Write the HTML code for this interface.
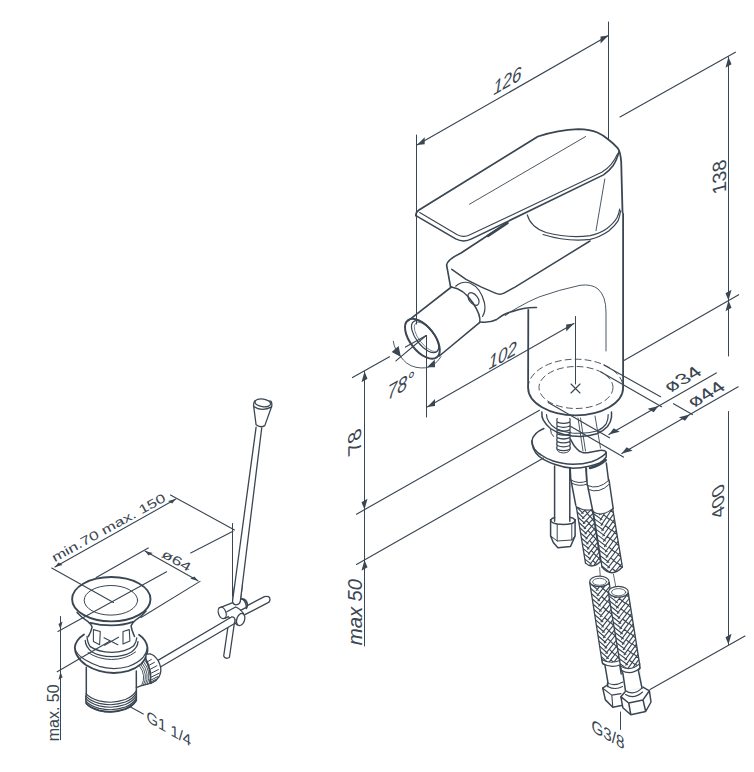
<!DOCTYPE html>
<html><head><meta charset="utf-8"><title>Drawing</title>
<style>
html,body{margin:0;padding:0;background:#fff;}
svg{display:block}
text{font-family:"Liberation Sans",sans-serif;fill:#3a4652;stroke:none}
</style></head><body>
<svg width="754" height="772" viewBox="0 0 754 772" stroke="#3a4652" fill="none" stroke-linecap="round" stroke-linejoin="round">
<rect width="754" height="772" fill="#fff" stroke="none"/>
<line x1="416.50" y1="135.00" x2="416.50" y2="324.00" stroke-width="1.0" />
<line x1="608.50" y1="22.00" x2="608.50" y2="139.00" stroke-width="1.0" />
<line x1="416.90" y1="145.10" x2="608.40" y2="35.50" stroke-width="1.2" />
<polygon points="608.40,35.50 600.59,43.47 600.59,36.47" fill="#3a4652" stroke="none"/>
<polygon points="416.90,145.10 424.71,144.13 424.71,137.13" fill="#3a4652" stroke="none"/>
<text transform="matrix(0.866,-0.5,0,1,507.00,87.50)" x="0.3" y="0" font-size="19.5" font-style="italic" text-anchor="middle">126</text>
<line x1="620.00" y1="117.00" x2="735.40" y2="52.20" stroke-width="1.15" />
<line x1="728.50" y1="57.00" x2="728.50" y2="300.50" stroke-width="1.0" />
<polygon points="728.50,300.50 731.53,289.75 725.47,293.25" fill="#3a4652" stroke="none"/>
<polygon points="728.50,57.00 731.53,64.25 725.47,67.75" fill="#3a4652" stroke="none"/>
<text transform="matrix(0,-1,0.96,-0.28,725.50,175.50)" x="0.4" y="0" font-size="20" text-anchor="middle">138</text>
<line x1="623.50" y1="360.80" x2="738.70" y2="294.70" stroke-width="1.15" />
<line x1="728.50" y1="300.50" x2="728.50" y2="356.00" stroke-width="1.0" />
<line x1="728.50" y1="411.50" x2="728.50" y2="644.50" stroke-width="1.0" />
<polygon points="728.50,300.50 731.53,307.75 725.47,311.25" fill="#3a4652" stroke="none"/>
<polygon points="728.50,644.50 731.53,633.75 725.47,637.25" fill="#3a4652" stroke="none"/>
<text transform="matrix(0,-1,0.866,-0.5,724.20,498.40)" x="0" y="0" font-size="19.8" text-anchor="middle">400</text>
<line x1="650.00" y1="689.40" x2="745.00" y2="636.00" stroke-width="1.15" />
<line x1="426.50" y1="335.50" x2="426.50" y2="417.00" stroke-width="1.0" />
<line x1="427.20" y1="407.00" x2="574.00" y2="323.60" stroke-width="1.15" />
<polygon points="574.00,323.60 566.17,331.55 566.17,324.55" fill="#3a4652" stroke="none"/>
<polygon points="427.20,407.00 435.03,406.05 435.03,399.05" fill="#3a4652" stroke="none"/>
<text transform="matrix(0.866,-0.5,0,1,502.50,362.00)" x="0.1" y="0" font-size="19.5" font-style="italic" text-anchor="middle">102</text>
<line x1="575.50" y1="316.50" x2="575.50" y2="384.00" stroke-width="1.0" />
<line x1="571.00" y1="384.00" x2="580.00" y2="393.00" stroke-width="1.15" />
<line x1="571.00" y1="393.00" x2="580.00" y2="384.00" stroke-width="1.15" />
<path d="M393.3,341.3 Q394.5,350 400.7,356.7 Q403.5,360.5 406.5,363 Q411,366.3 416,367.3 Q421,368.3 425.6,367.8 Q429.5,367 433,365.2 Q438,361.5 441,356.7" stroke-width="0.9" fill="none" />
<line x1="426.20" y1="335.50" x2="395.90" y2="360.90" stroke-width="1.15" />
<polygon points="391.7,351.9 398.6,346.1 400.9,357" fill="#3a4652" stroke="none"/>
<polygon points="427,367.3 435,367.3 434.8,359.6" fill="#3a4652" stroke="none"/>
<text transform="matrix(0.866,-0.5,0,1,400.00,393.00)" x="1" y="0" font-size="20.5" font-style="italic" text-anchor="middle">78°</text>
<line x1="352.50" y1="377.60" x2="389.50" y2="356.70" stroke-width="1.15" />
<line x1="405.50" y1="347.10" x2="426.20" y2="335.50" stroke-width="1.15" />
<line x1="364.50" y1="371.50" x2="364.50" y2="509.50" stroke-width="1.0" />
<polygon points="364.50,509.50 367.53,498.75 361.47,502.25" fill="#3a4652" stroke="none"/>
<polygon points="364.50,371.50 367.53,378.75 361.47,382.25" fill="#3a4652" stroke="none"/>
<text transform="matrix(0,-1,0.866,-0.5,361.00,438.70)" x="0.1" y="0" font-size="21.5" text-anchor="middle">78</text>
<line x1="356.50" y1="514.20" x2="539.50" y2="410.30" stroke-width="1.15" />
<line x1="356.50" y1="564.50" x2="543.50" y2="458.10" stroke-width="1.15" />
<line x1="364.50" y1="509.00" x2="364.50" y2="646.00" stroke-width="1.0" />
<polygon points="364.50,560.00 367.53,567.25 361.47,570.75" fill="#3a4652" stroke="none"/>
<text transform="matrix(0,-1,1,0,361.50,626.40)" x="0.4" y="0" font-size="20.5" font-style="italic" text-anchor="middle">max</text>
<text transform="matrix(0,-1,1,0,361.50,590.50)" x="0.2" y="0" font-size="20" font-style="italic" text-anchor="middle">50</text>
<path d="M415.9,215.6 Q415.6,212.5 418.6,210.3 L537.9,136.5 Q558,130 578.3,129.2 Q590,129.5 597.4,132.5 Q603,135 608,139.3 Q614,144 617.5,147.8 Q620.5,152 621.2,161.8 L622.5,212" stroke-width="1.8" fill="none" />
<path d="M415.9,215.6 L455.7,238.9 Q463.7,243 471.6,238.9 L603.5,174.9 Q609.5,170.5 613,165.7 Q616.8,160.3 618.9,151.9" stroke-width="1.6" fill="none" />
<path d="M419.7,212.5 L457.3,234.8 Q463.7,238 470,234.8 L601.7,172.3 Q607.5,168.6 610.9,164.6 Q615,159.8 617.6,153.8" stroke-width="1.1" fill="none" />
<line x1="469.50" y1="204.20" x2="585.70" y2="136.50" stroke-width="0.9" />
<line x1="604.80" y1="179.00" x2="596.00" y2="230.70" stroke-width="0.9" />
<path d="M506,223.5 L461,253 Q447.5,259.5 446.6,265 L450.5,286.5" stroke-width="1.6" fill="none" />
<path d="M488,235.8 L507.5,223" stroke-width="2.6" fill="none" />
<path d="M527.3,214.8 Q530.5,227 546,232.5 Q568,238.5 590.2,235.7 Q600,233.5 607,228.5 Q614,223 617.1,217.5 Q619,213.5 619.7,209.1" stroke-width="1.2" fill="none" />
<path d="M543,234.5 Q568,242.3 590.2,239.4 Q600,237 608.7,231 Q615,226 618,220.9 Q620,216 620.6,210.8" stroke-width="1.2" fill="none" />
<path d="M623.1,213.4 L623.1,387.7 A47.5,27.6 0 0 1 528.1,387.7 L528.3,310" stroke-width="1.8" fill="none" />
<path d="M528.1,387.7 A47.5,28.5 0 0 1 623.1,387.7" stroke-width="0.9" fill="none" stroke-dasharray="6 4"/>
<ellipse cx="576.00" cy="387.50" rx="37.00" ry="21.00" stroke-width="0.9" fill="none" transform="rotate(0 576.00 387.50)" stroke-dasharray="6 4"/>
<path d="M505.5,315.5 Q511,311 517.9,307.5 Q528,301.5 539.2,296.9 Q560,289.5 580,285.3 Q592,283.8 598,289 Q606,296 606,312 L606,351" stroke-width="0.9" fill="none" />
<path d="M451.8,269.3 L466,279.3 L481.5,287.1 L495.3,293.1 Q500,295.2 504,293.1 L515,287.1 L590,241" stroke-width="1.5" fill="none" />
<path d="M480.8,322 Q490,323 496.7,319.5 Q505,313 512.6,311.5 Q525,307 536.5,307.5" stroke-width="1.5" fill="none" />
<ellipse cx="422.40" cy="338.80" rx="23.50" ry="12.20" stroke-width="2.0" fill="none" transform="rotate(52 422.40 338.80)" />
<ellipse cx="425.10" cy="336.70" rx="19.00" ry="8.90" stroke-width="1.2" fill="none" transform="rotate(52 425.10 336.70)" />
<ellipse cx="426.60" cy="337.00" rx="17.60" ry="7.60" stroke-width="0.6" fill="none" transform="rotate(52 426.60 337.00)" />
<path d="M408.3,320.7 L451.4,287" stroke-width="1.6" fill="none" />
<path d="M439.3,356 L479.8,322.4" stroke-width="1.6" fill="none" />
<path d="M451.4,287 Q464,289 473,303 Q481,315 479.8,322.4" stroke-width="1.5" fill="none" />
<path d="M455.7,286.2 Q462,280.5 470,283 Q481,288 484.5,303 Q486,311 482.5,316.5" stroke-width="1.2" fill="none" />
<ellipse cx="473.50" cy="299.00" rx="4.30" ry="7.20" stroke-width="1.2" fill="none" transform="rotate(-38 473.50 299.00)" />
<line x1="548.20" y1="402.40" x2="609.50" y2="437.80" stroke-width="1.15" />
<line x1="570.00" y1="426.00" x2="623.40" y2="457.10" stroke-width="1.15" />
<path d="M541.9,411.9 Q541.5,417 543.2,419.9 Q546,425 550.5,428.5 Q556,432.5 563.8,434.5 Q572,436.5 581,436.5 Q590,436 596.9,433.8 Q603.5,431 607.5,426.5 Q611,422 611.5,417.2 L611.5,412" stroke-width="1.5" fill="none" />
<path d="M546.5,414.6 Q546.5,418.5 548.5,421.2 Q551,425.5 555.8,428.5 Q563,432 572,433 Q586,434 597,431 Q603,428.5 606.2,423.9 Q608.4,419.5 608.2,414.6" stroke-width="1.2" fill="none" />
<path d="M550.5,429.5 Q550.5,434 553.5,436.5" stroke-width="1.0" fill="none" />
<path d="M578,418 L583,451 M580.5,418 L585.5,451 M595,416 L600.5,448" stroke-width="0.9" fill="none" />
<path d="M543.9,428.5 Q533,433 531.9,441.1 L532.2,444.4 Q533,449 535.9,453 Q539,457 543.9,459.7 Q549,462.5 554.5,464.3 Q563,467.5 573,468.3 Q581,468.3 589,466.3 Q595,465 599.6,463 Q604,460.5 606.2,457 L606.2,452.4" stroke-width="1.5" fill="none" />
<path d="M531.9,441.1 Q532.3,445.5 534.6,449.1 Q537,452.5 541.2,455 Q546,458.5 553.2,461 Q562,464 573,464.3 Q583,464.3 591.6,461.7 Q598,459.5 602.2,456.4 Q605.5,454 606.2,452.4 Q605.5,450 599.6,450.4 Q594,451.5 589,452.4 Q585.5,453 582.3,452.4 Q579,451.5 577,449 Q574.5,446.5 573,443.8 Q571.5,441 570.4,439.1" stroke-width="1.5" fill="none" />
<path d="M557.2,418.5 Q556.3,420.3 557.2,422.1 Q563.5,424.7 569.8,422.1 Q570.7,420.3 569.8,418.5" stroke-width="1.25" fill="none" />
<path d="M557.2,422.4 Q556.3,424.2 557.2,426.0 Q563.5,428.6 569.8,426.0 Q570.7,424.2 569.8,422.4" stroke-width="1.25" fill="none" />
<path d="M557.2,426.3 Q556.3,428.1 557.2,429.9 Q563.5,432.5 569.8,429.9 Q570.7,428.1 569.8,426.3" stroke-width="1.25" fill="none" />
<path d="M557.2,430.2 Q556.3,432.0 557.2,433.8 Q563.5,436.4 569.8,433.8 Q570.7,432.0 569.8,430.2" stroke-width="1.25" fill="none" />
<path d="M557.2,434.1 Q556.3,435.9 557.2,437.7 Q563.5,440.3 569.8,437.7 Q570.7,435.9 569.8,434.1" stroke-width="1.25" fill="none" />
<path d="M557.2,438.0 Q556.3,439.8 557.2,441.6 Q563.5,444.2 569.8,441.6 Q570.7,439.8 569.8,438.0" stroke-width="1.25" fill="none" />
<path d="M557.2,441.9 Q556.3,443.7 557.2,445.5 Q563.5,448.1 569.8,445.5 Q570.7,443.7 569.8,441.9" stroke-width="1.25" fill="none" />
<path d="M557.2,445.8 Q556.3,447.6 557.2,449.4 Q563.5,452.0 569.8,449.4 Q570.7,447.6 569.8,445.8" stroke-width="1.25" fill="none" />
<path d="M557.2,449.5 Q557,452.5 563.5,453 Q570,452.5 569.8,449.5" stroke-width="1.0" fill="none" />
<path d="M554.6,466 L554.6,521.3 M569.8,467.5 L569.8,521.3" stroke-width="1.5" fill="none" />
<path d="M550.6,520 L550.6,535.9 L553.3,542.5 L557.9,547.8 L570.5,546.5 L575.1,535.9 L575.1,520" stroke-width="1.5" fill="none" />
<path d="M550.6,520 Q551,523 557.2,524 Q565,525 571.8,523.5 Q575,522.5 575.1,520" stroke-width="1.5" fill="none" />
<path d="M550.6,520 Q552,518 554.6,517.6 M569.8,517.3 Q573.5,517.6 575.1,520" stroke-width="1.5" fill="none" />
<path d="M557.2,524 L557.2,541 M571.8,523.5 L571.8,540" stroke-width="1.0" fill="none" />
<path d="M550.6,535.9 L557.2,541 L571.8,540 L575.1,535.9" stroke-width="1.0" fill="none" />
<path d="M570.2,468 L570.8,480.2 M586.4,468.5 L586.6,480.2" stroke-width="1.5" fill="none" />
<path d="M571.2,480.2 Q579,484.5 587.1,481 M571.4,483 Q579,487.3 587.4,484" stroke-width="1.0" fill="none" />
<path d="M571.2,480.2 L571.6,483.5 L575.8,505.4" stroke-width="1.5" fill="none" />
<path d="M585.8,467.5 L587.3,485.5 M606.3,463 L608.5,480.2" stroke-width="1.5" fill="none" />
<path d="M587.7,485.5 Q598,490.5 609,480.2 M588,489.3 Q599,494.5 609.6,484" stroke-width="1.0" fill="none" />
<path d="M587.7,485.5 L588.4,489.5 L593,512 M609,480.2 L609.6,484 L613.2,508.5" stroke-width="1.5" fill="none" />
<path d="M590,468 Q599,466 605.8,460" stroke-width="2.4" fill="none" />
<clipPath id="bc1"><path d="M576.3,506.8 Q584,511.5 592.3,509.5 L600.6,561.5 Q592.3,569.5 585.5,563.1 Z"/></clipPath>
<path d="M577.7,499.5 L581.5,503.1 M582.7,500.5 L580.0,503.1 M583.4,500.6 L585.4,502.9 M575.4,501.6 L582.3,508.2 M587.7,501.5 L580.9,508.2 M585.6,503.5 L588.0,506.2 M591.1,502.2 L591.6,502.8 M576.3,506.8 L583.1,513.3 M591.4,503.7 L581.7,513.3 M584.6,510.2 L587.0,512.9 M588.4,506.5 L590.8,509.2 M577.2,512.0 L583.9,518.4 M592.2,508.6 L582.5,518.4 M587.2,513.5 L589.5,516.1 M590.8,509.9 L593.2,512.5 M578.0,517.3 L584.8,523.4 M592.9,513.4 L583.4,523.5 M586.3,520.3 L588.6,522.9 M590.0,516.3 L592.3,518.9 M578.9,522.5 L585.6,528.5 M593.7,518.2 L584.2,528.6 M588.8,523.4 L591.1,525.9 M592.4,519.6 L594.7,522.1 M579.7,527.7 L586.4,533.6 M594.5,523.1 L585.0,533.8 M587.9,530.4 L590.2,532.8 M591.6,526.2 L593.9,528.6 M580.6,533.0 L587.2,538.7 M595.2,527.9 L585.9,538.9 M590.4,533.4 L592.7,535.8 M593.9,529.3 L596.2,531.7 M581.4,538.2 L588.0,543.8 M596.0,532.7 L586.7,544.0 M589.5,540.4 L591.8,542.8 M593.1,536.0 L595.4,538.4 M582.3,543.4 L588.9,548.8 M596.8,537.5 L587.5,549.1 M592.0,543.3 L594.3,545.6 M595.5,539.1 L597.8,541.4 M583.1,548.6 L589.7,553.9 M597.5,542.4 L588.4,554.2 M591.1,550.5 L593.4,552.7 M594.7,545.9 L597.0,548.1 M584.0,553.9 L590.5,559.0 M598.3,547.2 L589.2,559.4 M593.6,553.3 L595.9,555.5 M597.0,548.8 L599.3,551.0 M584.8,559.1 L591.3,564.1 M599.1,552.0 L590.0,564.5 M592.8,560.5 L595.0,562.7 M596.3,555.7 L598.6,557.9 M585.7,564.3 L592.2,569.2 M599.9,556.9 L590.9,569.6 M595.2,563.2 L597.5,565.4 M598.6,558.6 L600.9,560.7 M586.6,569.6 L588.2,570.8 M600.6,561.7 L594.9,569.8 M597.9,565.5 L600.1,567.6 M601.4,566.5 L599.6,569.1 M600.2,568.3 L600.8,568.9" stroke-width="1.15" fill="none" clip-path="url(#bc1)"/>
<path d="M576.3,506.8 L585.5,563.1 M592.3,509.5 L600.6,561.5" stroke-width="1.3" fill="none" />
<path d="M576.3,506.8 Q584,511.5 592.3,509.5" stroke-width="1.1" fill="none" />
<path d="M585.5,563.1 Q592.3,569.5 600.6,561.5" stroke-width="1.3" fill="none" />
<path d="M593.3,511.7 Q602,516 612.7,508.7 L622.4,567 Q611.7,578 602,567 Z" stroke-width="0.1" fill="#fff" />
<clipPath id="bc2"><path d="M593.3,511.7 Q602,517.5 612.7,508.7 L622.4,567 Q611.7,578.5 602,567 Z"/></clipPath>
<path d="M598.1,502.7 L599.3,503.5 M598.6,502.6 L597.7,504.1 M592.7,503.7 L600.2,508.9 M603.6,501.7 L598.5,509.4 M602.0,504.2 L604.9,506.3 M592.8,508.4 L601.1,514.2 M608.6,500.9 L599.4,514.8 M605.0,506.4 L607.8,508.6 M610.2,500.6 L612.1,502.0 M593.6,513.7 L601.9,519.6 M611.7,502.8 L600.2,520.1 M603.8,514.9 L606.6,517.1 M608.2,508.2 L611.1,510.4 M594.4,518.9 L602.8,524.9 M612.6,508.3 L601.1,525.4 M606.7,517.2 L609.6,519.5 M611.1,510.8 L613.9,513.0 M595.3,524.1 L603.6,530.2 M613.6,513.8 L601.9,530.7 M605.5,525.7 L608.4,528.0 M610.0,519.1 L612.9,521.4 M596.1,529.4 L604.5,535.6 M614.5,519.4 L602.8,536.0 M608.5,528.1 L611.4,530.4 M612.9,521.7 L615.8,524.1 M596.9,534.6 L605.4,540.9 M615.4,524.9 L603.6,541.3 M607.2,536.4 L610.1,538.8 M611.8,530.0 L614.7,532.4 M597.7,539.9 L606.2,546.3 M616.3,530.4 L604.5,546.6 M610.3,538.9 L613.2,541.3 M614.7,532.7 L617.6,535.1 M598.6,545.1 L607.1,551.6 M617.2,535.9 L605.3,552.0 M609.0,547.2 L611.9,549.6 M613.6,540.9 L616.5,543.4 M599.4,550.3 L607.9,556.9 M618.1,541.4 L606.2,557.3 M612.0,549.7 L615.0,552.2 M616.5,543.7 L619.4,546.2 M600.2,555.6 L608.8,562.3 M619.1,547.0 L607.0,562.6 M610.7,557.9 L613.7,560.4 M615.4,551.9 L618.4,554.4 M601.0,560.8 L609.6,567.6 M620.0,552.5 L607.9,567.9 M613.8,560.6 L616.8,563.1 M618.3,554.7 L621.3,557.2 M601.8,566.0 L610.5,573.0 M620.9,558.0 L608.7,573.2 M612.5,568.7 L615.4,571.3 M617.2,562.8 L620.2,565.3 M602.7,571.3 L607.3,575.0 M621.8,563.5 L612.5,575.1 M615.6,571.4 L618.5,574.0 M620.1,565.7 L623.1,568.3 M622.7,569.0 L617.8,575.2 M619.0,573.7 L620.8,575.3 M623.7,574.6 L623.1,575.3" stroke-width="1.15" fill="none" clip-path="url(#bc2)"/>
<path d="M593.3,511.7 L602,567 M612.7,508.7 L622.4,567" stroke-width="1.3" fill="none" />
<path d="M593.3,511.7 Q602,517.5 612.7,508.7" stroke-width="1.1" fill="none" />
<path d="M602,567 Q611.7,578.5 622.4,567" stroke-width="1.3" fill="none" />
<line x1="599.60" y1="567.60" x2="600.60" y2="580.30" stroke-width="0.8" />
<line x1="613.40" y1="574.00" x2="616.60" y2="591.00" stroke-width="0.8" />
<clipPath id="bc3"><path d="M589.7,582.3 L609.2,582.3 L620,660.5 Q610,664.5 601.7,659.5 Z"/></clipPath>
<path d="M594.2,574.4 L594.0,574.6 M590.2,574.4 L596.5,579.6 M599.3,574.3 L594.8,579.9 M598.4,575.4 L601.2,577.8 M589.0,578.1 L597.3,584.8 M604.4,574.3 L595.6,585.1 M601.4,578.0 L604.2,580.5 M608.0,574.3 L608.7,574.9 M589.9,583.3 L598.1,590.1 M608.3,575.7 L596.4,590.4 M600.0,585.9 L602.8,588.4 M604.6,580.2 L607.4,582.7 M590.7,588.5 L598.9,595.4 M609.0,581.0 L597.2,595.6 M602.9,588.5 L605.7,591.1 M607.4,583.0 L610.1,585.5 M591.5,593.8 L599.6,600.6 M609.8,586.3 L598.0,600.9 M601.5,596.5 L604.3,599.0 M606.1,590.8 L608.9,593.3 M592.3,599.0 L600.4,605.9 M610.5,591.6 L598.7,606.1 M604.4,599.1 L607.2,601.6 M608.8,593.6 L611.6,596.2 M593.1,604.2 L601.2,611.1 M611.2,596.9 L599.5,611.4 M603.1,607.0 L605.8,609.5 M607.6,601.4 L610.4,603.9 M593.9,609.5 L602.0,616.4 M612.0,602.2 L600.3,616.7 M605.9,609.7 L608.7,612.2 M610.3,604.2 L613.1,606.8 M594.7,614.7 L602.8,621.7 M612.7,607.5 L601.1,621.9 M604.6,617.5 L607.3,620.1 M609.1,611.9 L611.8,614.5 M595.6,619.9 L603.6,626.9 M613.4,612.8 L601.9,627.2 M607.5,620.2 L610.2,622.8 M611.8,614.8 L614.5,617.4 M596.4,625.2 L604.3,632.2 M614.1,618.1 L602.7,632.4 M606.2,628.1 L608.9,630.6 M610.6,622.5 L613.3,625.1 M597.2,630.4 L605.1,637.5 M614.9,623.4 L603.5,637.7 M609.0,630.8 L611.7,633.4 M613.3,625.4 L616.0,628.0 M598.0,635.7 L605.9,642.7 M615.6,628.7 L604.3,642.9 M607.7,638.6 L610.4,641.2 M612.1,633.1 L614.8,635.7 M598.8,640.9 L606.7,648.0 M616.3,634.0 L605.1,648.2 M610.5,641.3 L613.2,643.9 M614.8,636.0 L617.4,638.6 M599.6,646.1 L607.5,653.2 M617.1,639.3 L605.9,653.4 M609.3,649.2 L611.9,651.8 M613.6,643.7 L616.3,646.3 M600.4,651.4 L608.3,658.5 M617.8,644.7 L606.7,658.7 M612.0,651.9 L614.7,654.5 M616.2,646.6 L618.9,649.2 M601.3,656.6 L609.1,663.8 M618.5,650.0 L607.5,664.0 M610.8,659.7 L613.5,662.3 M615.1,654.3 L617.8,656.9 M602.1,661.8 L608.5,667.7 M619.3,655.3 L609.4,667.8 M613.6,662.5 L616.2,665.1 M617.7,657.2 L620.4,659.8 M602.9,667.1 L603.2,667.4 M620.0,660.6 L614.1,668.1 M616.6,664.8 L619.2,667.5 M620.7,665.9 L618.8,668.4 M619.2,667.8 L619.8,668.4" stroke-width="1.15" fill="none" clip-path="url(#bc3)"/>
<path d="M589.7,582.3 L601.7,659.5 M609.2,582.3 L620,660.5" stroke-width="1.3" fill="none" />
<ellipse cx="599.40" cy="581.40" rx="9.70" ry="5.30" stroke-width="1.2" fill="#fff" transform="rotate(0 599.40 581.40)" />
<ellipse cx="599.60" cy="581.80" rx="7.00" ry="3.50" stroke-width="0.8" fill="none" transform="rotate(0 599.60 581.80)" />
<path d="M608.4,592.9 L628.3,592.9 L639.6,663.8 Q630,672 620.5,666.1 Z" stroke-width="0.1" fill="#fff" />
<clipPath id="bc4"><path d="M608.4,592.9 L628.3,592.9 L639.6,663.8 Q630,672 620.5,666.1 Z"/></clipPath>
<path d="M612.3,585.1 L614.8,587.1 M615.0,585.1 L613.1,587.4 M607.2,585.4 L615.7,592.3 M620.0,585.2 L613.9,592.6 M617.6,588.1 L620.5,590.6 M608.0,590.6 L616.5,597.5 M625.1,585.2 L614.8,597.8 M620.6,590.6 L623.5,593.1 M625.1,585.3 L628.0,587.7 M608.9,595.9 L617.4,602.6 M627.6,588.4 L615.6,603.0 M619.2,598.4 L622.1,600.8 M623.9,592.7 L626.8,595.1 M609.8,601.1 L618.2,607.8 M628.4,593.4 L616.5,608.1 M622.2,600.9 L625.1,603.3 M626.7,595.4 L629.6,597.8 M610.6,606.3 L619.0,613.0 M629.2,598.5 L617.3,613.3 M620.9,608.7 L623.8,611.1 M625.5,602.9 L628.4,605.3 M611.5,611.5 L619.9,618.2 M630.0,603.5 L618.2,618.5 M623.9,611.1 L626.7,613.5 M628.3,605.6 L631.2,607.9 M612.3,616.8 L620.7,623.3 M630.8,608.6 L619.0,623.7 M622.6,619.0 L625.4,621.3 M627.2,613.1 L630.0,615.5 M613.2,622.0 L621.6,628.5 M631.6,613.7 L619.9,628.9 M625.5,621.4 L628.4,623.7 M630.0,615.7 L632.8,618.0 M614.1,627.2 L622.4,633.7 M632.4,618.7 L620.7,634.1 M624.3,629.3 L627.1,631.6 M628.8,623.3 L631.6,625.6 M614.9,632.5 L623.3,638.8 M633.2,623.8 L621.6,639.2 M627.2,631.7 L630.0,633.9 M631.6,625.9 L634.4,628.2 M615.8,637.7 L624.1,644.0 M634.0,628.9 L622.4,644.4 M625.9,639.6 L628.7,641.8 M630.5,633.5 L633.3,635.8 M616.7,642.9 L624.9,649.2 M634.8,633.9 L623.3,649.6 M628.9,641.9 L631.7,644.1 M633.2,636.1 L636.0,638.3 M617.5,648.2 L625.8,654.3 M635.6,639.0 L624.1,654.8 M627.6,649.9 L630.4,652.1 M632.1,643.8 L634.9,645.9 M618.4,653.4 L626.6,659.5 M636.5,644.1 L625.0,660.0 M630.5,652.2 L633.3,654.3 M634.8,646.2 L637.6,648.4 M619.3,658.6 L627.5,664.7 M637.3,649.1 L625.8,665.2 M629.3,660.2 L632.1,662.3 M633.7,654.0 L636.5,656.1 M620.1,663.8 L628.3,669.8 M638.1,654.2 L626.6,670.3 M632.2,662.4 L634.9,664.5 M636.5,656.4 L639.2,658.5 M621.0,669.1 L626.8,673.3 M638.9,659.3 L629.2,673.0 M630.9,670.5 L633.5,672.4 M635.4,664.2 L638.1,666.3 M639.7,664.3 L634.0,672.4 M638.1,666.6 L640.9,668.6 M640.5,669.4 L638.9,671.7" stroke-width="1.15" fill="none" clip-path="url(#bc4)"/>
<path d="M608.4,592.9 L620.5,666.1 M628.3,592.9 L639.6,663.8" stroke-width="1.3" fill="none" />
<ellipse cx="618.40" cy="591.80" rx="9.90" ry="5.40" stroke-width="1.2" fill="#fff" transform="rotate(0 618.40 591.80)" />
<ellipse cx="618.60" cy="592.20" rx="7.10" ry="3.60" stroke-width="0.8" fill="none" transform="rotate(0 618.60 592.20)" />
<path d="M601.7,659.5 Q610,664.5 620,660.5 M602.6,663.6 Q611,668.5 620.3,664.8" stroke-width="1.1" fill="none" />
<path d="M601.7,659.5 L602.6,663.6 L604.9,664.9 L608,682.9 M619.9,666 L621.2,674" stroke-width="1.5" fill="none" />
<path d="M607.5,682.9 Q614,686.8 622.9,682 M607.8,686.4 Q615,690.5 622.5,686.6" stroke-width="1.1" fill="none" />
<path d="M607.5,682.9 L607.8,686.4" stroke-width="1.5" fill="none" />
<path d="M607.3,685 L602.7,688.2 L605.4,699.9 L612.8,707.3 L621.5,705.5" stroke-width="1.5" fill="none" />
<path d="M602.7,688.2 L611.8,695.1 L621,693.6 M611.8,695.1 L612.8,707.3" stroke-width="1.1" fill="none" />
<path d="M620.5,666.1 Q630,672 639.6,663.8 L642,688.2 L625.5,690.8 Z" stroke-width="0.1" fill="#fff" />
<path d="M620.5,666.1 Q630,672 639.6,663.8 M621.3,670.2 Q631,676 640,668" stroke-width="1.1" fill="none" />
<path d="M620.5,666.1 L621.3,670.2 L622.9,673.3 L625.5,690.8 M639.6,663.8 L640,668 L638.3,670.2 L642,688.2" stroke-width="1.5" fill="none" />
<path d="M625.5,690.8 Q633.5,696 642,688.2 M625.5,694.5 Q634,699.8 642.6,692" stroke-width="1.1" fill="none" />
<path d="M620.8,696.7 L625,691.9 M643,687.1 L649.4,690.8 L651,702 L645.7,711.5 L630.8,714.7 L622.9,707.8 L620.8,696.7 L628.7,703 L643,699.9 L649.4,690.8 M628.7,703 L630.8,714.7 M643,699.9 L645.7,711.5" stroke-width="1.5" fill="none" />
<line x1="620.50" y1="712.00" x2="620.50" y2="729.40" stroke-width="1.0" />
<text transform="matrix(0.866,0.5,0,1,607.90,740.40)" x="0" y="0" font-size="17.5" text-anchor="middle">G3/8</text>
<line x1="603.90" y1="364.90" x2="660.60" y2="396.70" stroke-width="1.15" />
<line x1="601.00" y1="371.90" x2="661.60" y2="406.70" stroke-width="1.15" />
<line x1="673.50" y1="403.70" x2="692.40" y2="414.60" stroke-width="1.15" />
<line x1="608.90" y1="434.50" x2="716.30" y2="372.90" stroke-width="1.15" />
<polygon points="608.90,434.50 619.74,431.78 613.68,428.28" fill="#3a4652" stroke="none"/>
<polygon points="658.50,406.00 653.72,412.22 647.66,408.72" fill="#3a4652" stroke="none"/>
<line x1="621.80" y1="453.40" x2="738.20" y2="386.80" stroke-width="1.15" />
<polygon points="621.80,453.40 632.64,450.68 626.58,447.18" fill="#3a4652" stroke="none"/>
<polygon points="689.80,414.50 685.02,420.72 678.96,417.22" fill="#3a4652" stroke="none"/>
<text transform="matrix(0.866,-0.5,0.866,0.5,688.00,382.50)" x="-0.2" y="0" font-size="19.5" font-style="italic" text-anchor="middle" textLength="38.2" lengthAdjust="spacingAndGlyphs">ø34</text>
<text transform="matrix(0.866,-0.5,0.866,0.5,711.50,397.50)" x="-0.2" y="0" font-size="19.5" font-style="italic" text-anchor="middle" textLength="38.2" lengthAdjust="spacingAndGlyphs">ø44</text>
<line x1="170.50" y1="494.90" x2="234.50" y2="530.00" stroke-width="1.1" />
<line x1="54.90" y1="567.00" x2="175.80" y2="499.10" stroke-width="1.1" />
<polygon points="175.80,499.10 172.21,503.48 168.05,501.08" fill="#3a4652" stroke="none"/>
<polygon points="54.90,567.00 62.65,565.02 58.49,562.62" fill="#3a4652" stroke="none"/>
<text transform="translate(110.50,531.60) rotate(-28.8)" x="0.2" y="0" font-size="12.5" text-anchor="middle" textLength="127.8" lengthAdjust="spacingAndGlyphs">min.70 max. 150</text>
<line x1="96.20" y1="577.60" x2="148.20" y2="547.90" stroke-width="1.1" />
<line x1="141.00" y1="617.50" x2="200.00" y2="581.40" stroke-width="1.1" />
<line x1="145.00" y1="551.00" x2="198.00" y2="580.80" stroke-width="1.1" />
<polygon points="198.00,580.80 194.41,576.41 190.26,578.81" fill="#3a4652" stroke="none"/>
<polygon points="145.00,551.00 152.74,552.99 148.59,555.39" fill="#3a4652" stroke="none"/>
<text transform="translate(174.50,564.30) rotate(29.5)" x="0" y="0" font-size="12.5" text-anchor="middle" textLength="31.5" lengthAdjust="spacingAndGlyphs">ø64</text>
<line x1="190.70" y1="553.00" x2="233.00" y2="531.30" stroke-width="1.1" />
<line x1="232.50" y1="523.50" x2="232.50" y2="596.00" stroke-width="1.0" />
<line x1="60.50" y1="616.50" x2="60.50" y2="739.80" stroke-width="1.0" />
<polygon points="60.50,629.30 62.58,621.60 58.42,624.00" fill="#3a4652" stroke="none"/>
<polygon points="60.50,672.00 62.58,677.30 58.42,679.70" fill="#3a4652" stroke="none"/>
<text transform="matrix(0,-1,1,0,58.80,713.00)" x="0.2" y="0" font-size="16" text-anchor="middle">max. 50</text>
<line x1="130.10" y1="706.70" x2="143.30" y2="713.90" stroke-width="1.1" />
<text transform="matrix(0.866,0.5,0,1,168.60,733.90)" x="0.2" y="0" font-size="16" text-anchor="middle" textLength="51.5" lengthAdjust="spacingAndGlyphs">G1 1/4</text>
<path d="M244,607.3 L264.4,596.6 Q269.5,595.5 270,599 Q270,602 268.1,602.6 L244.9,614.7" stroke-width="1.3" fill="#fff" />
<path d="M256.1,427.2 L232.6,600.5 Q236,603.5 240.3,601.5 L261.7,428" stroke-width="1.3" fill="#fff" />
<path d="M254.6,401 Q253.2,404 253.7,406.5 L256.1,424.8 Q260.4,428.2 264.8,425.6 L271.6,406.5 Q272.4,403.5 270.9,401.2 Z" stroke-width="1.3" fill="#fff" />
<ellipse cx="262.80" cy="402.90" rx="7.90" ry="3.80" stroke-width="1.3" fill="#fff" transform="rotate(8 262.80 402.90)" />
<path d="M253.7,406.5 Q262,412 271.6,406.9" stroke-width="1.3" fill="none" />
<path d="M218.9,608.2 L242.1,598.9 Q245.9,601 246.3,607.3 L225,618.4 Z" stroke-width="1.3" fill="#fff" />
<path d="M242.1,598.9 Q246.5,599.5 247.3,604 Q247.5,607 246.3,608.5" stroke-width="1.6" fill="none" />
<ellipse cx="222.20" cy="612.90" rx="5.90" ry="3.70" stroke-width="1.3" fill="#fff" transform="rotate(70 222.20 612.90)" />
<path d="M234.57,586 L232.6,600.5 Q232.2,604 235.5,604.8 Q239.3,604.8 240.3,601.5 L242.2,586" stroke-width="1.3" fill="#fff" />
<path d="M226.8,611.8 L236,606.8 L243.5,613.8 L237.5,624.6 L229.5,618 Z" stroke-width="0.1" fill="#fff" />
<path d="M226.8,611.8 L235.6,607 Q240,608.5 243.6,613.6 M229,617.5 L237.3,625" stroke-width="1.3" fill="none" />
<ellipse cx="240.70" cy="619.50" rx="6.20" ry="3.90" stroke-width="1.3" fill="#fff" transform="rotate(-72 240.70 619.50)" />
<path d="M228.6,622.5 L223.7,656 Q225.3,659.5 229.4,657.5 L234.9,619.5" stroke-width="1.3" fill="#fff" />
<path d="M157.5,660.6 L231.5,617 Q234.5,616.5 235,620 Q235,623 233.8,624 L160.4,667" stroke-width="1.3" fill="#fff" />
<ellipse cx="111.30" cy="599.20" rx="39.20" ry="22.20" stroke-width="1.9" fill="#fff" transform="rotate(0 111.30 599.20)" />
<ellipse cx="110.90" cy="600.30" rx="26.70" ry="14.80" stroke-width="1.0" fill="none" transform="rotate(0 110.90 600.30)" />
<line x1="57.90" y1="631.50" x2="166.60" y2="571.80" stroke-width="1.1" />
<line x1="51.70" y1="568.00" x2="113.50" y2="602.50" stroke-width="1.1" />
<path d="M77,612.6 Q82,618 87.7,621.4 Q91,624 92.1,627.1 Q91,632 88.3,636.5" stroke-width="1.5" fill="none" />
<path d="M146,611 Q141,617 135.6,620.2 Q132,623 131.1,625.8 Q131.5,630 134.5,636.5" stroke-width="1.5" fill="none" />
<path d="M90.5,622.8 Q100,625.4 111.6,625.4 Q123,625.2 133,621.8" stroke-width="1.9" fill="none" />
<path d="M93.4,629.6 L100.3,631.5 L99.6,644.7 L93.4,641.6 Z" stroke-width="1.1" fill="none" />
<path d="M123,631.5 L129.3,629.6 L129.9,641 L123,644.1 Z" stroke-width="1.1" fill="none" />
<line x1="104.00" y1="637.80" x2="117.90" y2="644.70" stroke-width="1.1" />
<line x1="104.60" y1="645.30" x2="118.50" y2="637.20" stroke-width="1.1" />
<path d="M87,636.5 Q87.5,643 90.2,646.6 Q98,652 111.6,652.3 Q126,652 133.5,646 Q136.5,642 136.8,637.8" stroke-width="1.3" fill="none" />
<path d="M85.2,640.3 Q85.5,647 92,652 Q100,656.5 111.6,656.7 Q124,656.5 131.5,652 Q137.8,647.5 138,641.6" stroke-width="1.3" fill="none" />
<path d="M88,652.5 Q98,659.3 111.6,659.5 Q126,659.3 135.5,652" stroke-width="1.0" fill="none" />
<line x1="57.20" y1="671.80" x2="109.60" y2="641.20" stroke-width="1.1" />
<path d="M84,634.5 Q75.5,640 74.8,647.5 Q75,652 76.6,654.8 Q80,661 86,665 Q92,668.8 99.2,670.8 Q106,672.7 113.8,673 Q121,672.8 128.4,670.8 Q136,668.5 141.5,663.6 Q145.5,659.5 146.6,654.8 Q148,650 147.4,647.5 Q146.5,640 139,634.8" stroke-width="1.8" fill="none" />
<path d="M74.8,647.5 Q76,654 84.6,659.6 Q91,663.5 99.2,666.3 Q106,668.3 113.8,668.7 Q121,668.5 128.4,666.5 Q137,663.5 143,657.5 Q147,652.5 147.4,647.5" stroke-width="1.2" fill="none" />
<path d="M86.3,667.2 L86.3,694.2 L85.8,697 L86,703 Q90,707.5 99.2,710.2 Q105,711.7 110.8,711.7 Q118,711.3 125.4,708.8 Q133,705.5 136.4,700 L136.3,671" stroke-width="1.5" fill="none" />
<path d="M86,693.6 Q90,698.4 99.2,700.9 Q105,702.2 110.8,702.2 Q118,701.9 125.4,699.5 Q133,696.4 136.4,690.6" stroke-width="1.15" fill="none" />
<path d="M86,696.1 Q90,700.9 99.2,703.4 Q105,704.7 110.8,704.7 Q118,704.4 125.4,702.0 Q133,698.9 136.4,693.1" stroke-width="1.15" fill="none" />
<path d="M86,698.6 Q90,703.4 99.2,705.9 Q105,707.2 110.8,707.2 Q118,706.9 125.4,704.5 Q133,701.4 136.4,695.6" stroke-width="1.15" fill="none" />
<path d="M86,701.1 Q90,705.9 99.2,708.4 Q105,709.7 110.8,709.7 Q118,709.4 125.4,707.0 Q133,703.9 136.4,698.1" stroke-width="1.15" fill="none" />
<path d="M86,703.6 Q90,708.4 99.2,710.9 Q105,712.2 110.8,712.2 Q118,711.9 125.4,709.5 Q133,706.4 136.4,700.6" stroke-width="1.15" fill="none" />
<path d="M136.3,687.4 Q138.5,687 140.6,685.9 Q144.5,685 148.3,683.9 Q152.5,682.5 156.1,680.4" stroke-width="1.3" fill="none" />
<path d="M139.2,665.5 Q147.0,675.5 141.5,685.8" stroke-width="0.9" fill="none" />
<path d="M140.7,664.3 Q148.7,674.6 143.4,685.3" stroke-width="0.9" fill="none" />
<path d="M142.2,663.1 Q150.4,673.7 145.3,684.8" stroke-width="0.9" fill="none" />
<path d="M143.7,661.9 Q152.1,672.8 147.2,684.3" stroke-width="0.9" fill="none" />
<path d="M145.2,660.7 Q153.8,671.9 149.1,683.8" stroke-width="0.9" fill="none" />
<path d="M146.7,659.5 Q155.5,671.0 151.0,683.3" stroke-width="0.9" fill="none" />
<path d="M146,654.8 Q148,653.5 150.7,654 Q154,655 156.1,657.9 Q159,661 160,664.9 Q161.2,668 160.8,671.1 Q160.5,674 159.2,676.5 Q157,679.5 154.5,681.2 L150.7,683.5 Q151,670 146,659.4 Z" stroke-width="1.3" fill="#fff" />
<path d="M146,659.4 Q148,663 149.1,667.2 Q150.5,671 150.7,675 Q150.9,678 149.9,681" stroke-width="1.3" fill="none" />
<line x1="146.30" y1="662.50" x2="151.40" y2="659.40" stroke-width="1.0" />
<line x1="147.70" y1="666.00" x2="154.50" y2="662.30" stroke-width="1.0" />
<line x1="149.10" y1="669.90" x2="156.90" y2="665.70" stroke-width="1.0" />
<line x1="150.30" y1="673.60" x2="158.40" y2="669.60" stroke-width="1.0" />
<line x1="150.90" y1="677.30" x2="159.20" y2="673.20" stroke-width="1.0" />
<line x1="150.70" y1="680.20" x2="157.70" y2="676.60" stroke-width="1.0" />
<line x1="150.40" y1="682.30" x2="155.30" y2="679.60" stroke-width="1.0" />
</svg>
</body></html>
